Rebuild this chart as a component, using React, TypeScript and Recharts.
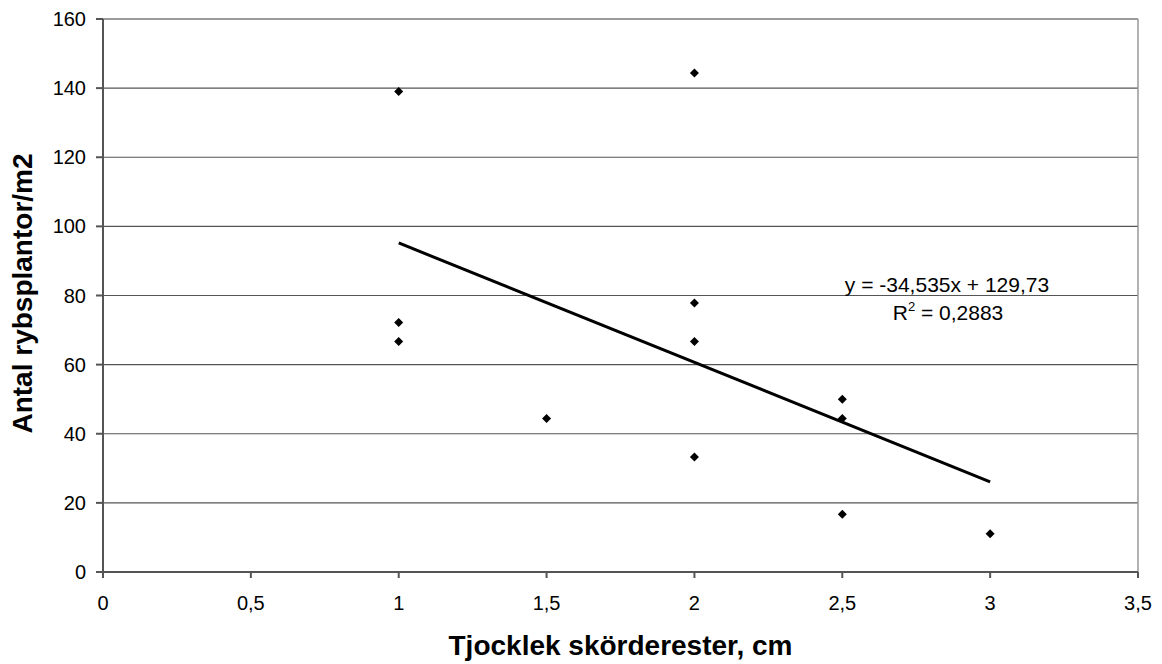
import {
  ScatterChart,
  Scatter,
  XAxis,
  YAxis,
  CartesianGrid,
  ReferenceLine,
  Label
} from "recharts";

// thickness of crop residue (cm) vs. plants per m2
const thickness = [1, 1, 1, 1.5, 2, 2, 2, 2, 2.5, 2.5, 2.5, 3];
const plants = [139, 72.2, 66.7, 44.4, 144.4, 77.8, 66.7, 33.3, 50, 44.4, 16.7, 11.1];

// linear trendline end points (y = -34,535x + 129,73)
const trendX = [1, 3];
const trendY = [95.2, 26.1];

const xTicks = [0, 0.5, 1, 1.5, 2, 2.5, 3, 3.5];
const yTicks = [0, 20, 40, 60, 80, 100, 120, 140, 160];

const points = thickness.map((x, i) => ({ x, y: plants[i] }));
const trend = trendX.map((x, i) => ({ x, y: trendY[i] }));

const font = "'Liberation Sans', Arial, sans-serif";

const Diamond = (props: any) => {
  const { cx, cy } = props;
  const r = 4.5;
  return (
    <path
      d={`M${cx},${cy - r}L${cx + r},${cy}L${cx},${cy + r}L${cx - r},${cy}Z`}
      fill="#000"
    />
  );
};

export default function App() {
  return (
    <div
      style={{
        position: "absolute",
        left: 0,
        top: 0,
        width: 1162,
        height: 664,
        background: "#fff",
        fontFamily: font
      }}
    >
      <ScatterChart
        width={1162}
        height={664}
        margin={{ top: 19, right: 24, bottom: 0, left: 0 }}
      >
        <CartesianGrid vertical={false} stroke="#555" strokeWidth={1.2} />

        <XAxis
          type="number"
          dataKey="x"
          domain={[0, 3.5]}
          ticks={xTicks}
          height={92}
          tickSize={6}
          tickMargin={18}
          stroke="#555"
          strokeWidth={2}
          tick={{ fill: "#000", fontSize: 20, fontFamily: font }}
          tickFormatter={(v: number) => String(v).replace(".", ",")}
        >
          <Label
            value="Tjocklek skörderester, cm"
            position="insideBottom"
            offset={9}
            style={{ fontWeight: "bold", fontSize: 28, fill: "#000", fontFamily: font }}
          />
        </XAxis>

        <YAxis
          type="number"
          dataKey="y"
          domain={[0, 160]}
          ticks={yTicks}
          width={103}
          tickSize={7}
          tickMargin={10}
          stroke="#555"
          strokeWidth={2}
          tick={{ fill: "#000", fontSize: 20, fontFamily: font }}
        >
          <Label
            position="insideLeft"
            content={(p: any) => {
              const vb = p.viewBox || {};
              const cx = (vb.x ?? 0) + 32;
              const cy = (vb.y ?? 19) + (vb.height ?? 553) / 2 - 2;
              return (
                <text
                  x={cx}
                  y={cy}
                  transform={`rotate(-90 ${cx} ${cy})`}
                  textAnchor="middle"
                  fontSize={28}
                  fontWeight="bold"
                  fontFamily={font}
                  fill="#000"
                >
                  Antal rybsplantor/m2
                </text>
              );
            }}
          />
        </YAxis>

        <ReferenceLine y={160} stroke="#999" strokeWidth={1.5} />
        <ReferenceLine x={3.5} stroke="#999" strokeWidth={1.5} />

        <Scatter
          data={trend}
          line={{ stroke: "#000", strokeWidth: 3 }}
          shape={() => <g />}
          isAnimationActive={false}
        />

        <Scatter data={points} shape={Diamond} isAnimationActive={false} />

        <text
          x={947}
          y={292}
          textAnchor="middle"
          fontSize={21}
          fontFamily={font}
          fill="#000"
        >
          y = -34,535x + 129,73
        </text>
        <text
          x={948}
          y={320}
          textAnchor="middle"
          fontSize={21}
          fontFamily={font}
          fill="#000"
        >
          R<tspan dy={-9} fontSize={13}>2</tspan>
          <tspan dy={9}> = 0,2883</tspan>
        </text>
      </ScatterChart>
    </div>
  );
}
